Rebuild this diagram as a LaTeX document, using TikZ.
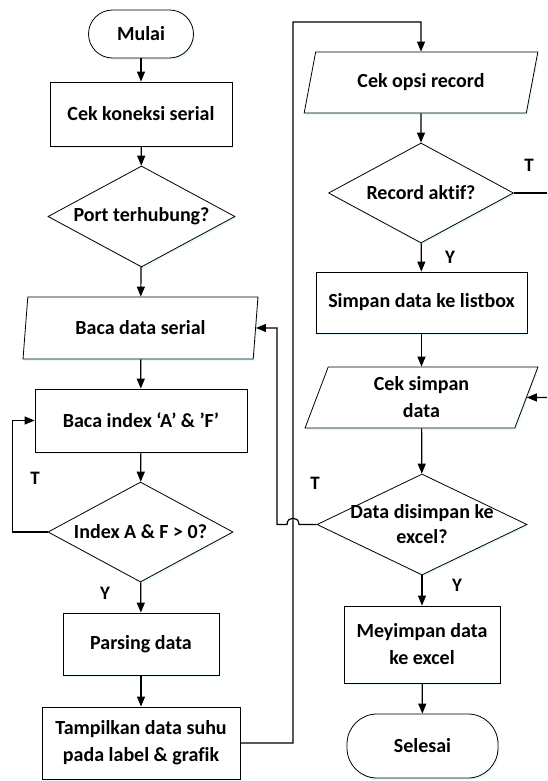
\documentclass[tikz,border=0pt]{standalone}
\usepackage{fontspec}
\setmainfont{Carlito}[Ligatures=NoCommon]
\usetikzlibrary{shapes.geometric,arrows.meta,shadows}
\begin{document}
\begin{tikzpicture}[x=1pt,y=-1pt,
  shd/.style={drop shadow={opacity=.35, fill=blue!25!cyan!30, shadow xshift=1.2pt, shadow yshift=-2pt}},
  base/.style={draw, line width=0.8pt, fill=white, shd, font=\bfseries\fontsize{20}{27}\selectfont, align=center, inner sep=0pt},
  proc/.style={base, rectangle},
  term/.style={base, rectangle},
  io/.style={base, trapezium, trapezium stretches=true},
  dia/.style={base, diamond},
  txt/.style={font=\bfseries\fontsize{20}{25}\selectfont, align=center, inner sep=0pt},
  lbl/.style={font=\bfseries\fontsize{19}{20}\selectfont, inner sep=0pt},
  arr/.style={-{Triangle[length=10pt,width=8pt]}, line width=1.2pt},
  ln/.style={line width=1.2pt}
]
\useasboundingbox (0,0) rectangle (547,781);

% left column
\node[term, rounded corners=24pt, minimum width=105pt, minimum height=48pt] (mulai) at (141,34) {Mulai};
\node[proc, minimum width=182pt, minimum height=64pt] (cek) at (141,114) {Cek koneksi serial};
\node[dia, minimum width=187pt, minimum height=101pt] (port) at (141.5,216.5) {};
\node[txt] (portt) at (port) {Port terhubung?};
\node[io, minimum width=235pt, minimum height=62pt, trapezium left angle=79, trapezium right angle=101] (baca) at (140.5,328) {Baca data serial};
\node[proc, minimum width=212pt, minimum height=63pt] (idx) at (141,420.5) {Baca index ‘A’ \& ’F’};
\node[dia, minimum width=185pt, minimum height=100pt] (idxd) at (140.5,532) {};
\node[txt] (idxdt) at (idxd) {Index A \& F > 0?};
\node[proc, minimum width=156pt, minimum height=62pt] (pars) at (141,644) {Parsing data};
\node[proc, minimum width=198pt, minimum height=72pt] (tamp) at (141,743) {Tampilkan data suhu\\pada label \& grafik};

% right column
\node[io, minimum width=234pt, minimum height=61pt, trapezium left angle=68, trapezium right angle=112] (opsi) at (421,82.5) {Cek opsi record};
\node[dia, minimum width=185pt, minimum height=100pt] (rec) at (421,193) {};
\node[txt] (rect) at (rec) {Record aktif?};
\node[proc, minimum width=211pt, minimum height=61pt] (simp) at (421.5,302.5) {Simpan data ke listbox};
\node[io, minimum width=233pt, minimum height=61pt, trapezium left angle=74, trapezium right angle=106] (cs) at (421.5,397.5) {Cek simpan\\data};
\node[dia, minimum width=210pt, minimum height=101pt] (dd) at (422,524.5) {};
\node[txt] (ddt) at (dd) {Data disimpan ke\\excel?};
\node[proc, minimum width=156pt, minimum height=77pt] (mey) at (422,644.5) {Meyimpan data\\ke excel};
\node[term, rounded corners=30pt, minimum width=151pt, minimum height=64pt] (sel) at (422.5,746) {Selesai};

% labels
\node[lbl] (t1) at (35,478) {T};
\node[lbl] (y1) at (105,593) {Y};
\node[lbl] (t2) at (529,165) {T};
\node[lbl] (y2) at (450,257) {Y};
\node[lbl] (t3) at (315,483) {T};
\node[lbl] (y3) at (457,585) {Y};

% free ends
\coordinate (recout) at (547,193);
\coordinate (csin) at (547,397.5);
\coordinate (up1) at (293,743);
\coordinate (up2) at (293,22);
\coordinate (up3) at (421,22);

% connectors
\draw[arr] (mulai) -- (cek);
\draw[arr] (cek) -- (port);
\draw[arr] (port) -- (baca);
\draw[arr] (baca) -- (idx);
\draw[arr] (idx) -- (idxd);
\draw[arr] (idxd.west) -- ++(-35,0) |- (idx.west);
\draw[arr] (idxd) -- (pars);
\draw[arr] (pars) -- (tamp);
\draw[arr] (tamp.east) -- (up1) -- (up2) -- (up3) -- (opsi.north);
\draw[arr] (opsi) -- (rec);
\draw[ln] (rec.east) -- (recout);
\draw[arr] (rec) -- (simp);
\draw[arr] (simp) -- (cs);
\draw[arr] (csin) -- (cs.east);
\draw[arr] (cs) -- (dd);
\draw[arr] (dd.west) -- (299,524.5) .. controls (299,516) and (287,516) .. (287,524.5) -- (277,524.5) -- (277,328) -- (baca.east);
\draw[arr] (dd) -- (mey);
\draw[arr] (mey) -- (sel);
\end{tikzpicture}
\end{document}
